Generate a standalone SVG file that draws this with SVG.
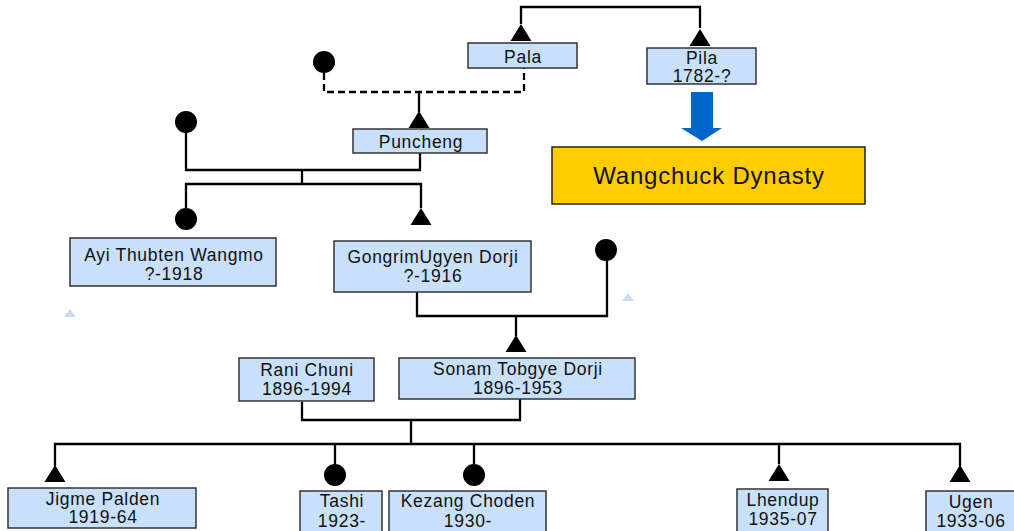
<svg xmlns="http://www.w3.org/2000/svg" width="1014" height="531" viewBox="0 0 1014 531">
<style>
.box{fill:#C8E0F9;stroke:#333;stroke-width:1.5}
.t{font-family:"Liberation Sans",Arial,sans-serif;font-size:17.5px;letter-spacing:0.7px;fill:#111;text-anchor:middle}
.ln{fill:none;stroke:#000;stroke-width:2.3}
.dash{fill:none;stroke:#000;stroke-width:2.3;stroke-dasharray:7,4}
.ghost{fill:#C6DDF5}
</style>
<defs>
<path id="tri" d="M-10.5,0 L0,-17 L10.5,0 Z" fill="#000"/>
<circle id="dot" r="11" fill="#000"/>
</defs>
<rect width="1014" height="531" fill="#fff"/>
<g id="connectors">
<path class="ln" d="M521,24 V7 H700 V28"/>
<use href="#tri" x="521" y="41"/>
<use href="#tri" x="700" y="46"/>
<use href="#dot" x="324" y="62"/>
<path class="dash" d="M324,73 V92 H524 V68"/>
<path class="ln" d="M419,92 V112"/>
<use href="#tri" x="419" y="128"/>
<use href="#dot" x="186" y="122"/>
<path class="ln" d="M186,133 V170 H420 V153"/>
<path class="ln" d="M302,170 V184"/>
<path class="ln" d="M186,208 V184 H421 V208"/>
<use href="#dot" x="186" y="219"/>
<use href="#tri" x="421" y="225"/>
<path class="ln" d="M417,292 V316 H607 V260"/>
<use href="#dot" x="606" y="250"/>
<path class="ln" d="M516,316 V336"/>
<use href="#tri" x="516" y="352"/>
<path class="ln" d="M302,402 V420 H520 V399"/>
<path class="ln" d="M411,420 V444"/>
<path class="ln" d="M55,466 V444 H960 V466"/>
<path class="ln" d="M335,444 V464 M474,444 V464 M779,444 V464"/>
<use href="#tri" x="55" y="482"/>
<use href="#dot" x="335" y="475"/>
<use href="#dot" x="474" y="475"/>
<use href="#tri" x="779" y="481"/>
<use href="#tri" x="960" y="482"/>
<path d="M691,92 H713 V128 H722 L702,141 L681,128 H691 Z" fill="#0066CC"/>
</g>
<path class="ghost" d="M64,317 L70,309 L76,317 Z"/>
<path class="ghost" d="M622,301 L628,293 L634,301 Z"/>
<g id="pala"><rect class="box" x="468" y="43" width="109" height="25"/><text class="t" x="523" y="63">Pala</text></g>
<g id="pila"><rect class="box" x="647" y="48" width="109" height="36"/><text class="t" x="702" y="64">Pila</text><text class="t" x="702" y="82">1782-?</text></g>
<g id="wangchuck"><rect x="552" y="147" width="313" height="57" fill="#FFCC00" stroke="#222" stroke-width="1.5"/><text x="709" y="184" font-family="Liberation Sans,Arial,sans-serif" font-size="24" letter-spacing="0.8" fill="#111" text-anchor="middle">Wangchuck Dynasty</text></g>
<g id="puncheng"><rect class="box" x="353" y="129" width="134" height="24"/><text class="t" x="421" y="148">Puncheng</text></g>
<g id="ayi"><rect class="box" x="70" y="238" width="206" height="48"/><text class="t" x="174" y="261">Ayi Thubten Wangmo</text><text class="t" x="174" y="280">?-1918</text></g>
<g id="gongrim"><rect class="box" x="334" y="241" width="197" height="51"/><text class="t" x="433" y="263" font-size="15.5" letter-spacing="0.1">GongrimUgyen Dorji</text><text class="t" x="433" y="282">?-1916</text></g>
<g id="rani"><rect class="box" x="239" y="358" width="135" height="43"/><text class="t" x="307" y="376">Rani Chuni</text><text class="t" x="307" y="395">1896-1994</text></g>
<g id="sonam"><rect class="box" x="399" y="358" width="236" height="41"/><text class="t" x="518" y="375">Sonam Tobgye Dorji</text><text class="t" x="518" y="394">1896-1953</text></g>
<g id="jigme"><rect class="box" x="8" y="488" width="188" height="40"/><text class="t" x="103" y="505">Jigme Palden</text><text class="t" x="103" y="523">1919-64</text></g>
<g id="tashi"><rect class="box" x="300" y="491" width="82" height="42"/><text class="t" x="342" y="507">Tashi</text><text class="t" x="342" y="527">1923-</text></g>
<g id="kezang"><rect class="box" x="389" y="491" width="157" height="42"/><text class="t" x="468" y="507">Kezang Choden</text><text class="t" x="468" y="527">1930-</text></g>
<g id="lhendup"><rect class="box" x="737" y="489" width="91" height="44"/><text class="t" x="783" y="506">Lhendup</text><text class="t" x="783" y="525">1935-07</text></g>
<g id="ugen"><rect class="box" x="926" y="491" width="90" height="42"/><text class="t" x="971" y="508">Ugen</text><text class="t" x="971" y="527">1933-06</text></g>
</svg>
